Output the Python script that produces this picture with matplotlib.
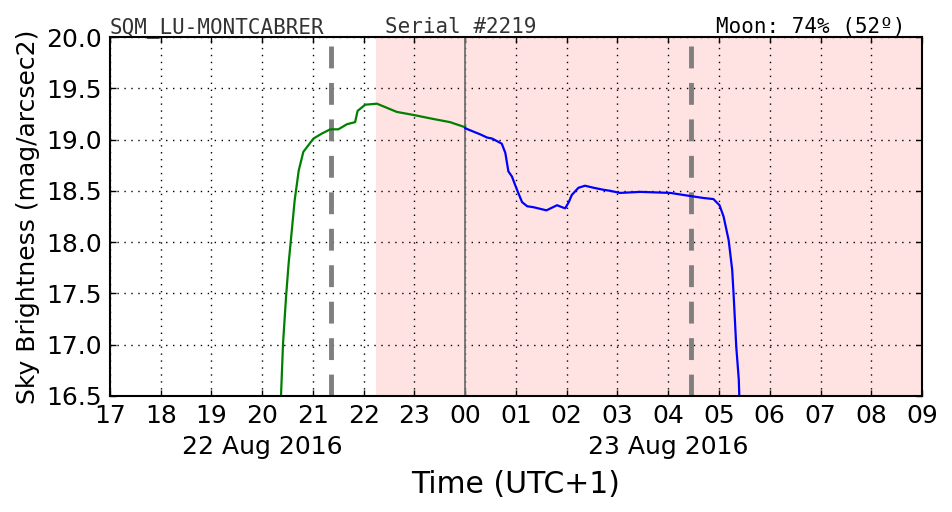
import numpy as np
import matplotlib
matplotlib.use("Agg")
import matplotlib.pyplot as plt

# hours relative to 00:00 of 23 Aug 2016 (UTC+1)
green_t = [-3.63, -3.59, -3.53, -3.48, -3.41, -3.36, -3.28, -3.19, -2.99, -2.82,
           -2.66, -2.50, -2.33, -2.17, -2.12, -1.97, -1.74, -1.35, -1.02, -0.62,
           -0.30, 0.00]
green_mag = [16.50, 17.01, 17.47, 17.79, 18.15, 18.41, 18.70, 18.88, 19.01, 19.06,
             19.10, 19.10, 19.15, 19.17, 19.28, 19.34, 19.35, 19.27, 19.24, 19.20,
             19.17, 19.12]

blue_t = [0.00, 0.30, 0.43, 0.53, 0.72, 0.79, 0.85, 0.92, 1.02, 1.12, 1.22, 1.35,
          1.60, 1.81, 1.91, 1.97, 2.04, 2.10, 2.23, 2.36, 2.53, 2.73, 2.86, 3.05,
          3.45, 4.04, 4.43, 4.70, 4.89, 5.01, 5.09, 5.19, 5.26, 5.29, 5.34, 5.39,
          5.40]
blue_mag = [19.11, 19.05, 19.02, 19.01, 18.96, 18.87, 18.69, 18.64, 18.51, 18.39,
            18.35, 18.34, 18.31, 18.36, 18.34, 18.33, 18.39, 18.46, 18.53, 18.55,
            18.53, 18.51, 18.50, 18.48, 18.49, 18.48, 18.45, 18.43, 18.42, 18.36,
            18.25, 18.02, 17.73, 17.47, 16.98, 16.66, 16.50]

hour_ticks = list(range(-7, 10))
hour_labels = ["17", "18", "19", "20", "21", "22", "23", "00", "01", "02",
               "03", "04", "05", "06", "07", "08", "09"]

night_start = 22.24 - 24      # astronomical night begins (shaded)
moon_events = [21.36 - 24, 4.44]
midnight = 0.0

fig = plt.figure(figsize=(9.52, 5.12), dpi=100)
ax = fig.add_axes([0.1155, 0.2266, 0.853, 0.7011])

## shaded night
ax.axvspan(night_start, 9, color="red", alpha=0.11, lw=0)
## midnight and moon lines
ax.axvline(midnight, color="#707070", lw=1.3)
for m in moon_events:
    ax.axvline(m, color="#7f7f7f", lw=3.5, ls=(0, (4.5, 3)))

## data
ax.plot(green_t, green_mag, color="green", lw=1.6)
ax.plot(blue_t, blue_mag, color="blue", lw=1.6)

## axes
ax.set_xlim(-7, 9)
ax.set_ylim(16.5, 20.0)
ax.set_xticks(hour_ticks)
ax.set_xticklabels(hour_labels)
ax.set_yticks(np.arange(16.5, 20.01, 0.5))
ax.set_yticklabels(["%.1f" % v for v in np.arange(16.5, 20.01, 0.5)])
ax.tick_params(direction="in", length=4, width=1, labelsize=18, pad=6,
               top=True, right=True)
ax.grid(True, color="black", ls=(0, (1, 4)), lw=1)
for s in ax.spines.values():
    s.set_linewidth(1.5)

ax.set_ylabel("Sky Brightness (mag/arcsec2)", fontsize=18, labelpad=4)
ax.set_xlabel("Time (UTC+1)", fontsize=21.5, labelpad=30)

## date labels
ax.text(-4, -0.143, "22 Aug 2016", transform=ax.get_xaxis_transform(),
        ha="center", va="center", fontsize=18)
ax.text(4, -0.143, "23 Aug 2016", transform=ax.get_xaxis_transform(),
        ha="center", va="center", fontsize=18)

## header
ax.text(0.0, 1.012, "SQM_LU-MONTCABRER", transform=ax.transAxes,
        family="DejaVu Sans Mono", fontsize=15, color="#333333", va="baseline")
ax.text(0.3387, 1.012, "Serial #2219", transform=ax.transAxes,
        family="DejaVu Sans Mono", fontsize=15, color="#333333", va="baseline")
ax.text(0.980, 1.012, "Moon: 74% (52º)", transform=ax.transAxes,
        family="DejaVu Sans Mono", fontsize=15, color="black", va="baseline", ha="right")

fig.savefig("out.png", dpi=100)
